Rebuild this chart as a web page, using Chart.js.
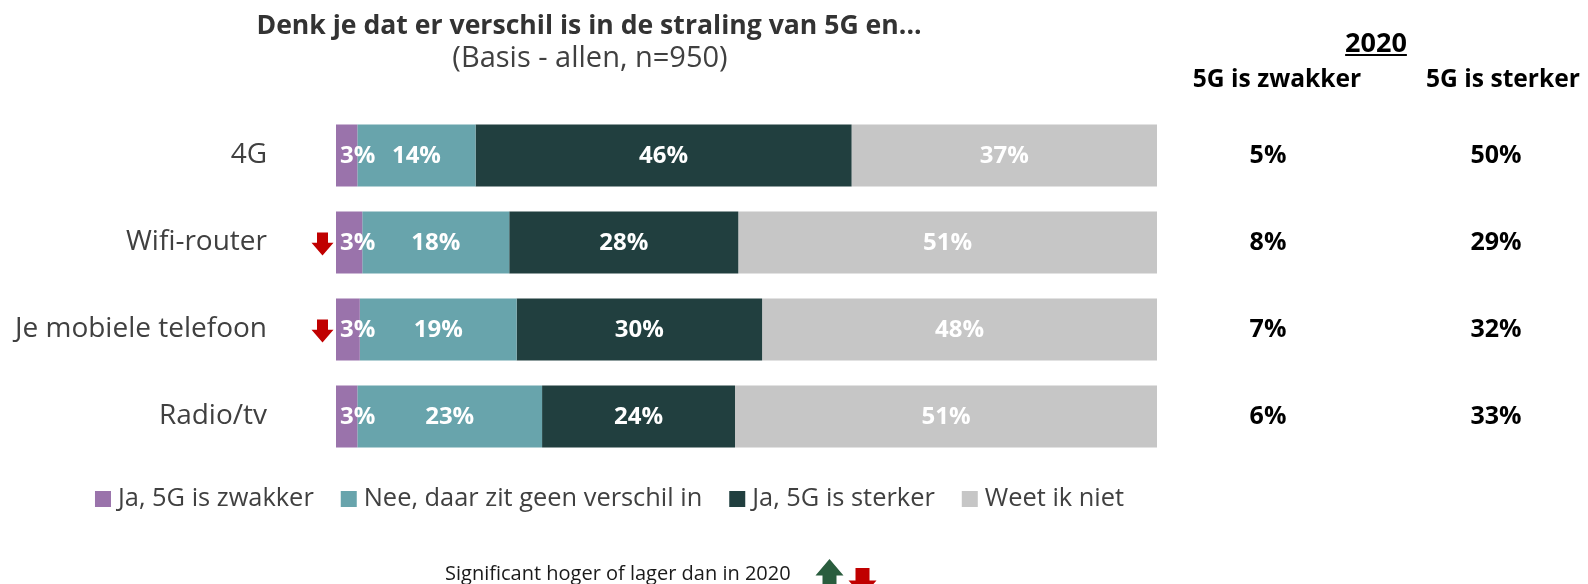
<!DOCTYPE html>
<html>
<head>
<meta charset="utf-8">
<script src="https://cdn.jsdelivr.net/npm/chart.js@4/dist/chart.umd.min.js"></script>
<style>
    html, body { margin: 0; padding: 0; background: #ffffff; }
    #wrap { width: 1588px; height: 584px; position: relative; }
</style>
</head>
<body>
<div id="wrap"><canvas id="stralingChart"></canvas></div>
<script>
// Gegevens
const categories = ['4G', 'Wifi-router', 'Je mobiele telefoon', 'Radio/tv'];
const seriesLabels = ['Ja, 5G is zwakker', 'Nee, daar zit geen verschil in', 'Ja, 5G is sterker', 'Weet ik niet'];
const zwakker = [2.6, 3.2, 2.9, 2.6];
const geenVerschil = [14.4, 17.9, 19.1, 22.5];
const sterker = [45.8, 27.9, 29.9, 23.5];
const weetNiet = [37.2, 51.0, 48.1, 51.4];

// Vergelijking 2020
const year2020 = '2020';
const headers2020 = ['5G is zwakker', '5G is sterker'];
const zwakker2020 = [5, 8, 7, 6];
const sterker2020 = [50, 29, 32, 33];
// Significant verschil t.o.v. 2020 ('up', 'down' of null)
const significance = [null, 'down', 'down', null];

const titleText = 'Denk je dat er verschil is in de straling van 5G en...';
const subtitleText = '(Basis - allen, n=950)';
const footnoteText = 'Significant hoger of lager dan in 2020';

const colors = ['#9a73ab', '#68a4ac', '#213f3f', '#c6c6c6'];
const FONT = "'Open Sans', sans-serif";
const RED = '#c00000';
const GREEN = '#2a5d3e';

function drawArrow(ctx, cx, top, w, h, dir, color) {
    // blokpijl: schacht + driehoekige kop
    const shaftW = w * 0.5;
    const headH = h * 0.55;
    ctx.save();
    ctx.fillStyle = color;
    ctx.beginPath();
    if (dir === 'down') {
        ctx.moveTo(cx - shaftW / 2, top);
        ctx.lineTo(cx + shaftW / 2, top);
        ctx.lineTo(cx + shaftW / 2, top + h - headH);
        ctx.lineTo(cx + w / 2, top + h - headH);
        ctx.lineTo(cx, top + h);
        ctx.lineTo(cx - w / 2, top + h - headH);
        ctx.lineTo(cx - shaftW / 2, top + h - headH);
    } else {
        ctx.moveTo(cx, top);
        ctx.lineTo(cx + w / 2, top + headH);
        ctx.lineTo(cx + shaftW / 2, top + headH);
        ctx.lineTo(cx + shaftW / 2, top + h);
        ctx.lineTo(cx - shaftW / 2, top + h);
        ctx.lineTo(cx - shaftW / 2, top + headH);
        ctx.lineTo(cx - w / 2, top + headH);
    }
    ctx.closePath();
    ctx.fill();
    ctx.restore();
}

const extrasPlugin = {
    id: 'extras',
    afterDraw(chart) {
        const ctx = chart.ctx;
        const yScale = chart.scales.y;
        ctx.save();

        // Labels in de balken
        ctx.font = `bold 24px ${FONT}`;
        ctx.fillStyle = '#ffffff';
        ctx.textBaseline = 'middle';
        chart.data.datasets.forEach((ds, di) => {
            const meta = chart.getDatasetMeta(di);
            meta.data.forEach((bar, i) => {
                const { x, base, y } = bar.getProps(['x', 'base', 'y'], true);
                const text = Math.round(ds.data[i]) + '%';
                const tw = ctx.measureText(text).width;
                if (tw > (x - base) - 2) {
                    ctx.textAlign = 'left';
                    ctx.fillText(text, base + 4, y + 1);
                } else {
                    ctx.textAlign = 'center';
                    ctx.fillText(text, (x + base) / 2, y + 1);
                }
            });
        });

        // Titel
        ctx.fillStyle = '#333333';
        ctx.textAlign = 'center';
        ctx.textBaseline = 'alphabetic';
        ctx.font = `bold 26.6px ${FONT}`;
        ctx.fillText(titleText, 589, 34);
        ctx.fillStyle = '#404040';
        ctx.font = `29px ${FONT}`;
        ctx.fillText(subtitleText, 590, 67);

        // Kolommen 2020
        ctx.fillStyle = '#000000';
        ctx.font = `bold 27px ${FONT}`;
        ctx.fillText(year2020, 1376, 52);
        const yw = ctx.measureText(year2020).width;
        ctx.fillRect(1376 - yw / 2, 54, yw, 2);
        ctx.font = `bold 24.6px ${FONT}`;
        ctx.fillText(headers2020[0], 1277, 87);
        ctx.fillText(headers2020[1], 1503, 87);
        ctx.font = `bold 25px ${FONT}`;
        ctx.textBaseline = 'middle';
        categories.forEach((c, i) => {
            const y = yScale.getPixelForValue(i);
            ctx.fillText(zwakker2020[i] + '%', 1268, y);
            ctx.fillText(sterker2020[i] + '%', 1496, y);
            if (significance[i]) {
                drawArrow(ctx, 322.5, y - 10, 22, 23, significance[i], significance[i] === 'up' ? GREEN : RED);
            }
        });

        // Legenda
        ctx.font = `25.4px ${FONT}`;
        ctx.textAlign = 'left';
        const box = 16, gapText = 7, gapItem = 27;
        const widths = chart.data.datasets.map(ds => ctx.measureText(ds.label).width);
        const total = widths.reduce((s, w) => s + box + gapText + w, 0) + gapItem * (widths.length - 1);
        let lx = 609.5 - total / 2;
        const ly = 499;
        chart.data.datasets.forEach((ds, di) => {
            ctx.fillStyle = ds.backgroundColor;
            ctx.fillRect(lx, ly - box / 2, box, box);
            ctx.fillStyle = '#404040';
            ctx.fillText(ds.label, lx + box + gapText, ly);
            lx += box + gapText + widths[di] + gapItem;
        });

        // Voetnoot
        ctx.fillStyle = '#1a1a1a';
        ctx.font = `20px ${FONT}`;
        ctx.textBaseline = 'alphabetic';
        ctx.fillText(footnoteText, 445, 580);
        drawArrow(ctx, 829.5, 559, 28, 30, 'up', GREEN);
        drawArrow(ctx, 862.5, 568, 28, 28, 'down', RED);

        ctx.restore();
    }
};

const seriesData = [zwakker, geenVerschil, sterker, weetNiet];

new Chart(document.getElementById('stralingChart'), {
    type: 'bar',
    data: {
        labels: categories,
        datasets: seriesLabels.map((label, i) => ({
            label: label,
            data: seriesData[i],
            backgroundColor: colors[i],
            borderWidth: 0,
            categoryPercentage: 1,
            barPercentage: 0.713
        }))
    },
    options: {
        indexAxis: 'y',
        responsive: true,
        maintainAspectRatio: false,
        animation: false,
        layout: {
            padding: { top: 112, bottom: 124, left: 0, right: 431 }
        },
        plugins: {
            legend: { display: false },
            tooltip: { enabled: false },
            title: { display: false }
        },
        scales: {
            x: {
                stacked: true,
                min: 0,
                max: 100,
                display: false
            },
            y: {
                stacked: true,
                grid: { display: false, drawTicks: false },
                border: { display: false },
                ticks: {
                    color: '#404040',
                    padding: 69,
                    font: { family: FONT, size: 28 }
                },
                afterFit(scale) {
                    scale.width = 336;
                }
            }
        }
    },
    plugins: [extrasPlugin]
});
</script>
</body>
</html>
